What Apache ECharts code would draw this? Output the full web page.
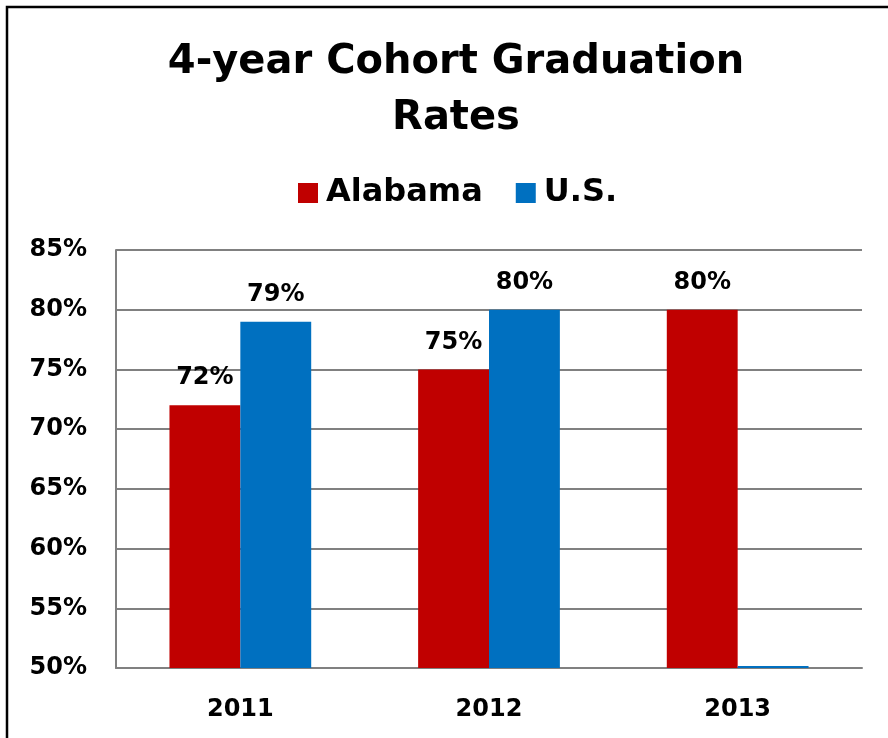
<!DOCTYPE html>
<html>
<head>
<meta charset="utf-8">
<script src="https://cdn.jsdelivr.net/npm/echarts@6/dist/echarts.min.js"></script>
<style>
  html, body { margin: 0; padding: 0; background: #fff; }
  #chart { width: 888px; height: 738px; }
</style>
</head>
<body>
<div id="chart"></div>
<script>
var years = ['2011', '2012', '2013']
var alabama = [72, 75, 80]
// U.S. 2013 sits at the axis floor (drawn as a hairline in the original)
var us = [79, 80, 50]
var yTicks = { min: 50, max: 85, step: 5 }

var font = 'DejaVu Sans'
var chart = echarts.init(document.getElementById('chart'))

function pctLabel(p) {
  return p.value > yTicks.min ? p.value + '%' : ''
}

var barLabel = {
  show: true,
  position: 'top',
  distance: 15,
  formatter: pctLabel,
  fontFamily: font,
  fontWeight: 'bold',
  fontSize: 24,
  color: '#000'
}

chart.setOption({
  animation: false,
  title: {
    text: '4-year Cohort Graduation\nRates',
    left: 451,
    top: 30,
    textAlign: 'center',
    textStyle: {
      fontFamily: font,
      fontWeight: 'bold',
      fontSize: 40,
      lineHeight: 56,
      color: '#000'
    }
  },
  legend: {
    data: ['Alabama', 'U.S.'],
    left: 293,
    top: 172,
    itemWidth: 20,
    itemHeight: 20,
    itemGap: 33,
    icon: 'rect',
    textStyle: {
      fontFamily: font,
      fontWeight: 'bold',
      fontSize: 32,
      padding: [0, 0, 0, 3],
      color: '#000'
    }
  },
  grid: {
    left: 116,
    right: 26,
    top: 250,
    bottom: 70,
    containLabel: false
  },
  xAxis: {
    type: 'category',
    data: years,
    axisTick: { show: false },
    axisLine: { lineStyle: { color: '#808080', width: 2 } },
    axisLabel: {
      margin: 30,
      fontFamily: font,
      fontWeight: 'bold',
      fontSize: 24,
      color: '#000'
    }
  },
  yAxis: {
    type: 'value',
    min: yTicks.min,
    max: yTicks.max,
    startValue: yTicks.min,
    interval: yTicks.step,
    axisLine: { show: true, lineStyle: { color: '#808080', width: 2 } },
    axisTick: { show: false },
    splitLine: { lineStyle: { color: '#808080', width: 2 } },
    axisLabel: {
      margin: 29,
      formatter: '{value}%',
      fontFamily: font,
      fontWeight: 'bold',
      fontSize: 24,
      color: '#000'
    }
  },
  series: [
    {
      name: 'Alabama',
      type: 'bar',
      data: alabama,
      barGap: '0%',
      barCategoryGap: '43%',
      itemStyle: { color: '#C00000' },
      label: barLabel
    },
    {
      name: 'U.S.',
      type: 'bar',
      data: us,
      barMinHeight: 2,
      clip: false,
      itemStyle: { color: '#0070C0' },
      label: barLabel
    }
  ],
  graphic: [{
    type: 'rect',
    shape: { x: 7, y: 7, width: 1000, height: 1000 },
    style: { fill: 'none', stroke: '#000', lineWidth: 2.5 },
    silent: true
  }]
})
</script>
</body>
</html>
